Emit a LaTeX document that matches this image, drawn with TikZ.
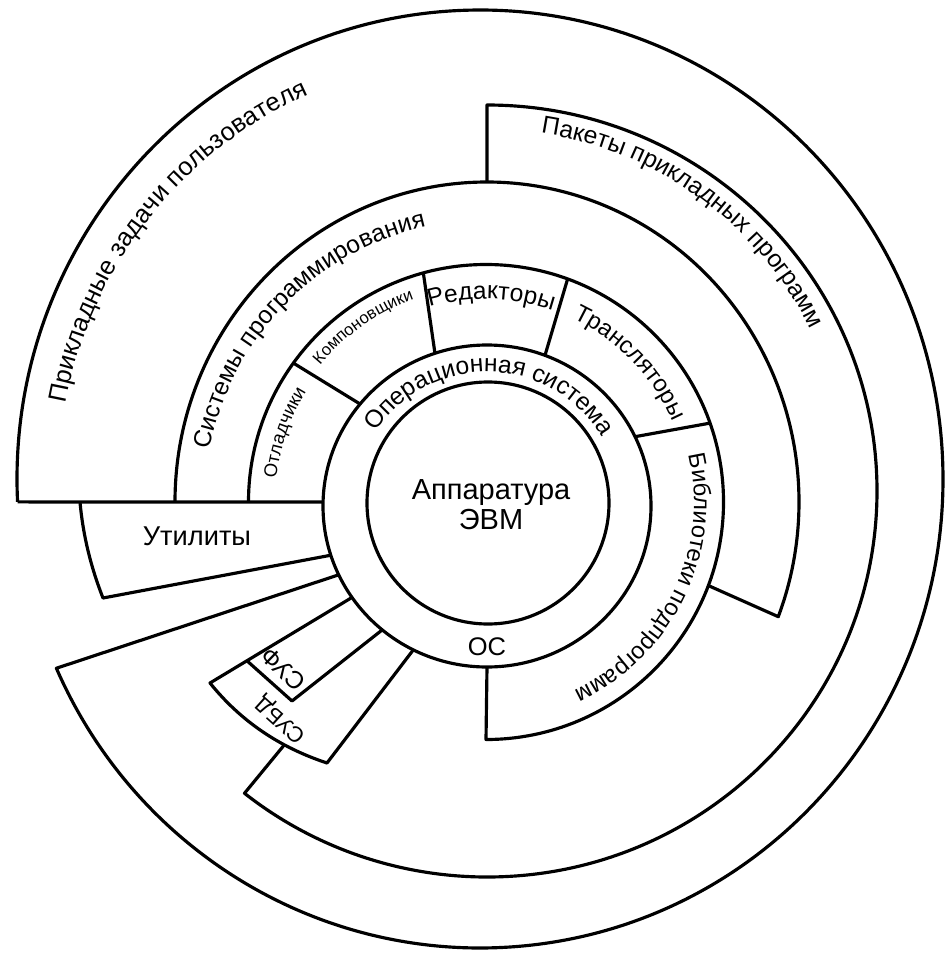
\documentclass[tikz,border=0pt]{standalone}
\usepackage{fontspec}
\setmainfont{Liberation Sans}
\usetikzlibrary{decorations.text}

\newcommand{\fsz}[1]{\fontsize{#1pt}{#1pt}\selectfont}

\tikzset{
  lbl/.style={inner sep=0pt},
  arctext/.style={decorate, decoration={text along path, text align=center, text={#1}}}
}

\begin{document}
\begin{tikzpicture}[x=0.02cm, y=-0.02cm, line width=1.8pt, line join=round]

\useasboundingbox (0,0) rectangle (945,953);

\coordinate (hw) at (488,503);
\coordinate (os) at (487,506);
\coordinate (tl) at (486,502);
\coordinate (sp) at (487,502);
\coordinate (pk) at (487,491);
\coordinate (ap) at (480,479);

\path (os) ++(181.4:164 and 161) coordinate (oL)
      (os) ++(162.2:164 and 161) coordinate (oA)
      (os) ++(154.7:164 and 161) coordinate (oB)
      (os) ++(145.4:164 and 161) coordinate (oC)
      (os) ++(129.7:164 and 161) coordinate (oF)
      (os) ++(116.7:164 and 161) coordinate (oD)
      (os) ++(90:164 and 161)    coordinate (oBib)
      (os) ++(219.3:164 and 161) coordinate (o1)
      (os) ++(251.5:164 and 161) coordinate (o2)
      (os) ++(290.7:164 and 161) coordinate (o3)
      (os) ++(334.5:164 and 161) coordinate (o4);

\path (tl) ++(215.8:237.5) coordinate (t1)
      (tl) ++(254.7:237.5) coordinate (t2)
      (tl) ++(290.1:237.5) coordinate (t3)
      (tl) ++(340.6:237.5) coordinate (t4)
      (tl) ++(20.6:237.5)  coordinate (tE)
      (ap) ++(177.2:463 and 469) coordinate (apS);

\draw (hw) circle[radius=121];
\draw (os) circle[x radius=164, y radius=161];

\draw (tl) ++(180:237.5) arc[start angle=180, end angle=450, radius=237.5] -- (oBib);
\draw (o1) -- (t1);
\draw (o2) -- (t2);
\draw (o3) -- (t3);
\draw (o4) -- (t4);

\draw (sp) ++(180:312 and 320) arc[start angle=180, end angle=381, x radius=312, y radius=320] -- (tE);

\draw (apS) -- (oL);
\draw (apS) arc[start angle=177.2, end angle=516.2, x radius=463, y radius=469] -- (oB);
\draw (80,502) .. controls (83,535) and (90.6,566.4) .. (103,598) -- (oA);

\draw (oC) -- coordinate[pos=0.74] (sf1) (210,683)
  .. controls (241,721.5) and (280,747.5) .. (327,763) coordinate[pos=0.68] (pkE) -- (oD);
\draw (sf1) -- (292,701) -- (oF);

\draw (sp) ++(270:312 and 320) -- ++(0,-77)
  arc[start angle=270, end angle=488.45, x radius=390, y radius=386] -- (pkE);

\node[lbl, font=\fontsize{16.5pt}{17pt}\selectfont, align=center] (hwlbl) at (491,505) {Аппаратура\\ЭВМ};
\node[lbl, font=\fsz{15.5}] (util) at (197,536) {Утилиты};
\node[lbl, font=\fsz{14.5}] (oslbl) at (487,647) {ОС};
\node[lbl, font=\fsz{14}, rotate=136] (suf) at (283,669) {СУФ};
\node[lbl, font=\fsz{12.5}, rotate=138] (subd) at (281,719) {СУБД};

\path[arctext={|\fsz{14.5}|Прикладные задачи пользователя}]
  (ap) ++(168.2:421) arc[start angle=168.2, end angle=268.2, radius=421];
\path[arctext={|\fsz{14}|Системы программирования}]
  (sp) ++(174.1:282) arc[start angle=174.1, end angle=274.1, radius=282];
\path[arctext={|\fsz{14}|Пакеты прикладных программ}]
  (pk) ++(256:362) arc[start angle=256, end angle=356, radius=362];
\path[arctext={|\fsz{14}|Операционная система}]
  (os) ++(201.35:134) arc[start angle=201.35, end angle=341.35, radius=134];
\path[arctext={|\fsz{10.5}|Отладчики}]
  (tl) ++(169:211) arc[start angle=169, end angle=229, radius=211];
\path[arctext={|\fsz{9.5}|Компоновщики}]
  (tl) ++(205:215) arc[start angle=205, end angle=265, radius=215];
\path[arctext={|\fsz{14}|Редакторы}]
  (tl) ++(241.5:203) arc[start angle=241.5, end angle=301.5, radius=203];
\path[arctext={|\fsz{13.5}|Трансляторы}]
  (tl) ++(286:203) arc[start angle=286, end angle=346, radius=203];
\path[arctext={|\fsz{13.5}|Библиотеки подпрограмм}]
  (tl) ++(-24:208) arc[start angle=-24, end angle=76, radius=208];

\end{tikzpicture}
\end{document}
